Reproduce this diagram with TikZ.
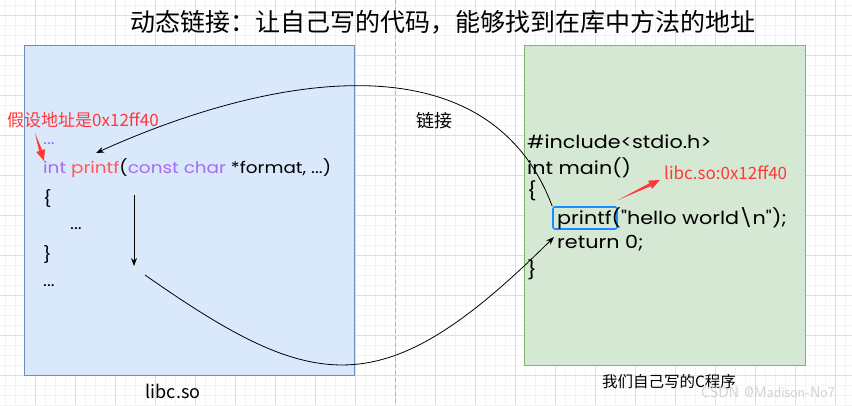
\documentclass[tikz,border=0pt]{standalone}
\usepackage{fontspec}
\setmainfont{Noto Sans CJK SC}
\newfontfamily\codefont[FakeStretch=1.15]{Poppins}
\usetikzlibrary{arrows.meta,calc}
\definecolor{gridmin}{HTML}{F3F3F3}
\definecolor{gridmaj}{HTML}{DEDEDE}
\definecolor{bluefill}{HTML}{DAE8FC}
\definecolor{bluedraw}{HTML}{6C8EBF}
\definecolor{greenfill}{HTML}{D5E8D4}
\definecolor{greendraw}{HTML}{82B366}
\definecolor{kwpurple}{HTML}{A66BF0}
\definecolor{fnred}{HTML}{FF5A5A}
\definecolor{labred}{HTML}{FF3838}
\definecolor{hlblue}{HTML}{1A8CFF}
\newcommand\taperarrow[3]{%
  \path ($(#2)!11pt!(#1)$) coordinate (tah);
  \fill[#3] (#1) -- ($(tah)!1.6pt!90:(#2)$) -- ($(tah)!4.6pt!90:(#2)$) -- (#2)
    -- ($(tah)!4.6pt!-90:(#2)$) -- ($(tah)!1.6pt!-90:(#2)$) -- cycle;}
\tikzset{
  box/.style={draw, line width=1pt, inner sep=0pt},
  libbox/.style={box, draw=bluedraw, fill=bluefill},
  progbox/.style={box, draw=greendraw, fill=greenfill},
  codeL/.style={anchor=west, inner sep=0pt, font=\codefont\fontsize{16}{18}\selectfont},
  codeR/.style={anchor=west, inner sep=0pt, font=\codefont\fontsize{18}{20}\selectfont},
  lbl/.style={inner sep=0pt},
  conn/.style={draw=black, line width=0.8pt, -{Stealth[length=8pt,width=6pt]}},
}
\begin{document}
\begin{tikzpicture}[x=1pt,y=-1pt]
\useasboundingbox (0,0) rectangle (852,405);
\fill[white] (0,0) rectangle (852,405);
% grid
\foreach \x in {5,15,...,845} \draw[gridmin, line width=0.8pt] (\x,0) -- (\x,405);
\foreach \y in {5,15,...,405} \draw[gridmin, line width=0.8pt] (0,\y) -- (852,\y);
\foreach \x in {35,75,...,835} \draw[gridmaj, line width=0.8pt] (\x,0) -- (\x,405);
\foreach \y in {15,55,...,375} \draw[gridmaj, line width=0.8pt] (0,\y) -- (852,\y);
\draw[black!30, line width=0.8pt, dash pattern=on 4pt off 3pt] (395,0) -- (395,405);

% title
\node[lbl, font=\fontsize{25}{27}\selectfont] (title) at (443,22) {动态链接：让自己写的代码，能够找到在库中方法的地址};

% boxes
\node[libbox, minimum width=330pt, minimum height=330pt] (lib) at (189,210) {};
\node[progbox, minimum width=281pt, minimum height=320pt] (prog) at (664.5,205) {};

% left code
\node[lbl, text=labred, font=\fontsize{17}{19}\selectfont, anchor=west] (addr) at (7,120) {假设地址是0x12ff40};
\node[codeL, text=kwpurple] (ld1) at (43,144) {...};
\node[codeL] (sig) at (43,168) {\textcolor{kwpurple}{int} \textcolor{fnred}{printf}(\textcolor{kwpurple}{const char} *format, ...)};
\node[codeL] (lb) at (43,199) {\{};
\node[codeL] (ld2) at (70,229) {...};
\node[codeL] (rb) at (43,255) {\}};
\node[codeL] (ld3) at (43,286) {...};

% right code
\node[codeR] (inc) at (527,142) {\#include<stdio.h>};
\node[codeR] (mainl) at (527,168) {int main()};
\node[codeR] (rlb) at (527,191) {\{};
\node[draw=hlblue, line width=1.6pt, rounded corners=2pt, minimum width=64pt, minimum height=22pt, inner sep=0pt] (hl) at (585,218) {};
\node[codeR] (call) at (557,218) {printf("hello world\textbackslash n");};
\node[codeR] (ret) at (557,243) {return 0;};
\node[codeR] (rrb) at (527,270) {\}};
\node[lbl, text=labred, font=\fontsize{17}{19}\selectfont, anchor=west] (libaddr) at (664,173) {libc.so:0x12ff40};

% labels
\node[lbl, font=\fontsize{18}{20}\selectfont] (link) at (434,121) {链接};
\node[lbl, font=\fontsize{18}{20}\selectfont] (libname) at (173,391) {libc.so};
\node[lbl, font=\fontsize{15.5}{17}\selectfont] (progname) at (669,382) {我们自己写的C程序};
\node[lbl, text=black!18, font=\fontsize{15}{17}\selectfont\sffamily] (wm) at (768,392) {CSDN @Madison-No7};

% connectors
\coordinate (pfin) at (96,153);
\coordinate (dnA) at (134,195);
\coordinate (dnB) at (134,266);
\coordinate (bodyout) at (145,275);
\coordinate (retin) at (554,237);
\draw[conn] (hl.north west) .. controls (490,40) and (280,70) .. (pfin);
\draw[conn] (dnA) -- (dnB);
\draw[conn] (bodyout) .. controls (315,394) and (383,407) .. (retin);

% red pointer arrows
\coordinate (a1s) at (35,133);
\coordinate (a1e) at (44,161);
\taperarrow{a1s}{a1e}{labred}
\coordinate (a2s) at (618,200);
\coordinate (a2e) at (660,180);
\taperarrow{a2s}{a2e}{labred}
\end{tikzpicture}
\end{document}
